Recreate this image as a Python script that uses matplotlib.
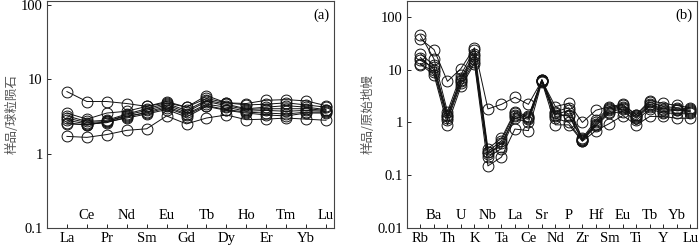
import numpy as np
import matplotlib
matplotlib.use('Agg')
import matplotlib.pyplot as plt

plt.rcParams['font.family'] = ['Liberation Serif', 'DejaVu Serif']
plt.rcParams['font.size'] = 10.5

# (a) chondrite-normalised REE
ree = ['La', 'Ce', 'Pr', 'Nd', 'Sm', 'Eu', 'Gd', 'Tb', 'Dy', 'Ho', 'Er', 'Tm', 'Yb', 'Lu']
ree_samples = [
    [6.8, 5.0, 5.0, 4.7, 4.3, 4.8, 4.2, 5.5, 4.8, 4.7, 5.2, 5.3, 5.1, 4.4],
    [3.5, 2.9, 3.5, 3.7, 4.3, 5.0, 4.2, 6.0, 4.8, 4.5, 4.6, 4.8, 4.5, 4.2],
    [3.2, 2.7, 2.8, 3.4, 4.0, 4.7, 3.8, 5.2, 4.6, 4.0, 4.2, 4.4, 4.2, 3.9],
    [3.0, 2.6, 2.7, 3.3, 3.8, 4.5, 3.6, 5.0, 4.4, 3.9, 4.0, 4.0, 4.0, 3.8],
    [2.8, 2.5, 2.6, 3.1, 3.6, 4.3, 3.4, 4.6, 4.2, 3.7, 3.8, 3.7, 3.8, 3.7],
    [2.6, 2.4, 2.7, 3.2, 3.5, 4.1, 3.3, 4.4, 3.9, 3.6, 3.5, 3.4, 3.6, 3.6],
    [2.5, 2.45, 2.65, 3.0, 3.4, 3.9, 3.1, 4.3, 3.8, 3.5, 3.3, 3.2, 3.5, 3.5],
    [1.7, 1.65, 1.8, 2.05, 2.15, 3.2, 2.5, 3.0, 3.3, 2.85, 2.9, 3.0, 2.9, 2.8],
]

# (b) primitive-mantle-normalised trace elements
trace = ['Rb', 'Ba', 'Th', 'U', 'K', 'Nb', 'Ta', 'La', 'Ce', 'Sr', 'Nd', 'P', 'Zr',
         'Hf', 'Sm', 'Eu', 'Ti', 'Tb', 'Y', 'Yb', 'Lu']
trace_samples = [
    [38, 24, 6.0, 10.5, 26, 1.8, 2.2, 3.0, 2.2, 6.2, 2.0, 2.3, 1.0, 1.7, 2.0, 2.2, 1.4, 2.6, 2.3, 2.1, 1.9],
    [45, 16, 1.6, 8.0, 24, 0.32, 0.5, 1.6, 1.3, 6.5, 1.6, 1.9, 0.5, 1.1, 1.9, 2.1, 1.4, 2.4, 2.0, 1.9, 1.8],
    [20, 12, 1.3, 7.0, 20, 0.28, 0.45, 1.5, 1.2, 6.3, 1.4, 1.7, 0.48, 1.0, 1.8, 2.0, 1.3, 2.2, 1.8, 1.8, 1.7],
    [17, 10, 1.2, 6.0, 16, 0.25, 0.4, 1.3, 1.15, 6.1, 1.3, 1.4, 0.46, 0.9, 1.6, 1.8, 1.2, 2.0, 1.6, 1.7, 1.6],
    [15, 11, 1.4, 6.5, 18, 0.27, 0.35, 1.4, 1.25, 6.4, 1.5, 1.3, 0.47, 0.95, 1.7, 1.9, 1.25, 2.1, 1.7, 1.75, 1.65],
    [13, 9, 1.1, 5.5, 14, 0.22, 0.32, 1.2, 1.0, 6.0, 1.2, 1.0, 0.45, 0.85, 1.5, 1.6, 1.1, 1.8, 1.5, 1.5, 1.5],
    [12.5, 8, 0.9, 4.8, 13, 0.15, 0.22, 0.75, 0.7, 5.9, 0.9, 0.9, 0.44, 0.7, 0.95, 1.35, 0.9, 1.3, 1.3, 1.2, 1.2],
]

W, H = 700, 249
fig = plt.figure(figsize=(W / 100, H / 100), dpi=100)
fig.set_facecolor('white')


def px_axes(l, r, t, b):
    return fig.add_axes([l / W, 1 - b / H, (r - l) / W, (b - t) / H])


def draw_panel(ax, names, samples, ylim, yticks, yticklabels, ylabel, tag, xmax):
    x = np.arange(len(names))
    for s in samples:
        ax.plot(x, s, color='#111111', lw=0.7, marker='o', ms=7.8, mfc='none',
                mec='#111111', mew=0.7)
    ax.set_yscale('log')
    ax.set_ylim(*ylim)
    ax.set_xlim(-1, xmax)
    ax.set_yticks(yticks)
    ax.set_yticklabels(yticklabels)
    ax.minorticks_off()
    ax.set_xticks(x)
    ax.set_xticklabels([])
    ax.tick_params(axis='x', direction='in', length=3, width=0.6)
    ax.tick_params(axis='y', direction='in', length=3, width=0.6, pad=3)
    for sp in ax.spines.values():
        sp.set_linewidth(0.8)
        sp.set_color('#444444')
    tr = ax.get_xaxis_transform()
    for i, n in enumerate(names):
        if i % 2 == 0:
            ax.text(i, -0.045, n, transform=tr, ha='center', va='center')
        else:
            ax.text(i, 0.057, n, transform=tr, ha='center', va='center')
    ax.text(0.955, 0.935, tag, transform=ax.transAxes, ha='center', va='center')
    ax.set_ylabel(ylabel, family=['Noto Sans CJK SC', 'DejaVu Sans'], fontsize=9,
                  color='#555555', labelpad=2)


ax1 = px_axes(47, 334, 1, 228)
draw_panel(ax1, ree, ree_samples, (0.1, 112), [0.1, 1, 10, 100],
           ['0.1', '1', '10', '100'], '样品/球粒陨石', '(a)', 13.4)

ax2 = px_axes(407, 697, 1, 228)
draw_panel(ax2, trace, trace_samples, (0.01, 200), [0.01, 0.1, 1, 10, 100],
           ['0.01', '0.1', '1', '10', '100'], '样品/原始地幔', '(b)', 20.5)

fig.savefig('out.png', dpi=100)
